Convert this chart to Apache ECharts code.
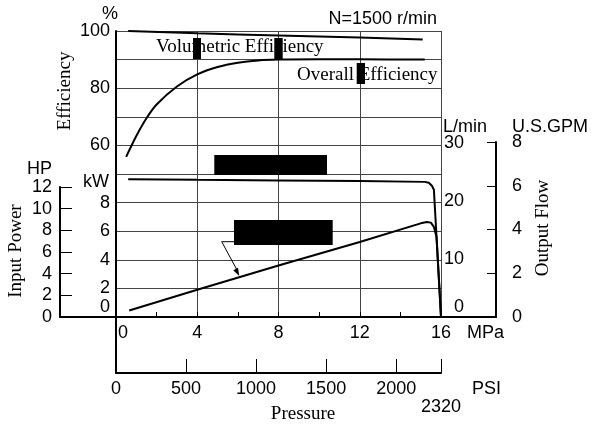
<!DOCTYPE html>
<html>
<head>
<meta charset="utf-8">
<script src="https://cdn.jsdelivr.net/npm/echarts@6/dist/echarts.min.js"></script>
<style>html,body{margin:0;padding:0;background:#fff}#c{width:592px;height:427px}</style>
</head>
<body>
<div id="c"></div>
<script>
// ---- data (pressure in MPa) ----
const volP   = [0.6, 4, 8, 12, 15.1];
const volEff = [100, 99.2, 98.4, 97.7, 97.0];

const ovP   = [0.5, 1, 1.5, 2, 3, 4, 5, 6, 7, 8, 10, 12, 15.2];
const ovEff = [56, 63.3, 69.5, 74.3, 80.6, 84.8, 87.4, 88.9, 89.7, 90.0, 90.1, 90.1, 90.0];

const flowP = [0.6, 4, 8, 12, 15.2, 15.4, 15.55, 15.65, 16];
const flowQ = [23.7, 23.6, 23.5, 23.4, 23.25, 23.1, 22.6, 21.9, 0];   // L/min

const powP  = [0.65, 4, 8, 12, 15.0, 15.3, 15.5, 15.65, 15.78, 16];
const powKW = [0.45, 1.9, 3.6, 5.25, 6.55, 6.65, 6.6, 6.3, 5.6, 0];   // kW

const mpaTicks = [0, 4, 8, 12, 16];
const psiTicks = [0, 500, 1000, 1500, 2000, 2320];
const effLabels = [60, 80, 100];
const kwLabels = [0, 2, 4, 6, 8];
const lminLabels = [0, 10, 20, 30];
const hpTicks = [0, 2, 4, 6, 8, 10, 12];
const gpmTicks = [0, 2, 4, 6, 8];

const zip = (a, b) => a.map((v, i) => [v, b[i]]);

const SANS = '"Liberation Sans", Arial, Helvetica, sans-serif';
const SERIF = '"Liberation Serif", "Times New Roman", serif';
const FS = 18;
const SFS = 19;
const BLACK = '#000';
const GRID = '#444';

const chart = echarts.init(document.getElementById('c'), null, {renderer: 'canvas'});

function txt(text, x, y, opt) {
  opt = opt || {};
  return {
    type: 'text', x: x, y: y, rotation: opt.rot || 0, z: 100,
    style: {
      text: text, fill: BLACK,
      font: (opt.size || FS) + 'px ' + (opt.serif ? SERIF : SANS),
      align: opt.align || 'left', verticalAlign: 'middle'
    }
  };
}
function box(x, y, w, h) {
  return {type: 'rect', z: 100, shape: {x: x, y: y, width: w, height: h}, style: {fill: BLACK}};
}

const option = {
  animation: false,
  backgroundColor: '#fff',
  grid: [
    {left: 116, top: 31, width: 325, height: 286},
    {left: 60, top: 187, width: 56, height: 130},
    {left: 441, top: 142, width: 55, height: 175},
    {left: 116, top: 317, width: 325, height: 56}
  ],
  xAxis: [
    {
      gridIndex: 0, type: 'value', min: mpaTicks[0], max: mpaTicks[mpaTicks.length - 1], interval: 4,
      axisLine: {show: true, onZero: false, lineStyle: {color: BLACK, width: 2}},
      axisTick: {show: true, inside: true, length: 5, lineStyle: {color: BLACK}},
      minorTick: {show: true, splitNumber: 2, length: 5, lineStyle: {color: BLACK, width: 1}},
      axisLabel: {
        margin: 7, fontSize: FS, fontFamily: SANS, color: BLACK,
        formatter: v => v === 0 ? '{z|0}' : String(v),
        rich: {z: {fontSize: FS, fontFamily: SANS, color: BLACK, padding: [0, 0, 0, 14]}}
      },
      splitLine: {show: true, lineStyle: {color: GRID, width: 1}}
    },
    {gridIndex: 1, type: 'value', min: 0, max: 1, axisLine: {show: true, onZero: false, lineStyle: {color: BLACK, width: 2}},
      axisTick: {show: false}, axisLabel: {show: false}, splitLine: {show: false}},
    {gridIndex: 2, type: 'value', min: 0, max: 1, axisLine: {show: true, onZero: false, lineStyle: {color: BLACK, width: 2}},
      axisTick: {show: false}, axisLabel: {show: false}, splitLine: {show: false}},
    {
      gridIndex: 3, type: 'value', min: psiTicks[0], max: psiTicks[psiTicks.length - 1], interval: 500,
      axisLine: {show: true, onZero: false, lineStyle: {color: BLACK, width: 2}},
      axisTick: {show: true, inside: true, length: 14, lineStyle: {color: BLACK, width: 1}, customValues: psiTicks},
      axisLabel: {
        margin: 7, fontSize: FS, fontFamily: SANS, color: BLACK, customValues: psiTicks,
        showMaxLabel: true, showMinLabel: true,
        formatter: v => v === 2320 ? '{d|2320}' : String(v),
        rich: {d: {fontSize: FS, fontFamily: SANS, color: BLACK, padding: [18, 0, 0, 0]}}
      },
      splitLine: {show: false}
    }
  ],
  yAxis: [
    {
      gridIndex: 0, type: 'value', position: 'left', min: 0, max: 100, interval: 10,
      axisLine: {show: true, onZero: false, lineStyle: {color: BLACK, width: 2}},
      axisTick: {show: false},
      axisLabel: {margin: 6, fontSize: FS, fontFamily: SANS, color: BLACK,
        formatter: v => effLabels.indexOf(v) >= 0 ? String(v) : ''},
      splitLine: {show: true, lineStyle: {color: GRID, width: 1}}
    },
    {
      gridIndex: 0, type: 'value', position: 'left', min: 0, max: 20, interval: 2,
      axisLine: {show: false}, axisTick: {show: false}, splitLine: {show: false},
      axisLabel: {margin: 6, fontSize: FS, fontFamily: SANS, color: BLACK,
        formatter: v => kwLabels.indexOf(v) < 0 ? '' : (v === 0 ? '{z|0}' : String(v)),
        rich: {z: {fontSize: FS, fontFamily: SANS, color: BLACK, padding: [0, 0, 20, 0]}}}
    },
    {
      gridIndex: 0, type: 'value', position: 'right', min: 0, max: 49.21, interval: 10,
      axisLine: {show: false}, axisTick: {show: false}, splitLine: {show: false},
      axisLabel: {margin: 23, align: 'right', fontSize: FS, fontFamily: SANS, color: BLACK,
        formatter: v => lminLabels.indexOf(v) < 0 ? '' : (v === 0 ? '{z|0}' : String(v)),
        rich: {z: {fontSize: FS, fontFamily: SANS, color: BLACK, padding: [0, 0, 20, 0]}}}
    },
    {
      gridIndex: 1, type: 'value', position: 'left', min: hpTicks[0], max: hpTicks[hpTicks.length - 1], interval: 2,
      axisLine: {show: true, onZero: false, lineStyle: {color: BLACK, width: 2}},
      axisTick: {show: true, inside: true, length: 12, lineStyle: {color: BLACK, width: 1}},
      axisLabel: {margin: 8, fontSize: FS, fontFamily: SANS, color: BLACK},
      splitLine: {show: false}
    },
    {
      gridIndex: 2, type: 'value', position: 'right', min: gpmTicks[0], max: gpmTicks[gpmTicks.length - 1], interval: 2,
      axisLine: {show: true, onZero: false, lineStyle: {color: BLACK, width: 2}},
      axisTick: {show: true, inside: true, length: 9, lineStyle: {color: BLACK, width: 1}},
      axisLabel: {margin: 16, fontSize: FS, fontFamily: SANS, color: BLACK},
      splitLine: {show: false}
    },
    {
      gridIndex: 3, type: 'value', position: 'left', min: 0, max: 1,
      axisLine: {show: true, onZero: false, lineStyle: {color: BLACK, width: 2}},
      axisTick: {show: false}, axisLabel: {show: false}, splitLine: {show: false}
    }
  ],
  series: [
    {type: 'line', name: 'Volumetric Efficiency', xAxisIndex: 0, yAxisIndex: 0, data: zip(volP, volEff),
      showSymbol: false, smooth: true, lineStyle: {color: BLACK, width: 2}, z: 5},
    {type: 'line', name: 'Overall Efficiency', xAxisIndex: 0, yAxisIndex: 0, data: zip(ovP, ovEff),
      showSymbol: false, smooth: 0.3, lineStyle: {color: BLACK, width: 2}, z: 5},
    {type: 'line', name: 'Output Flow', xAxisIndex: 0, yAxisIndex: 2, data: zip(flowP, flowQ),
      showSymbol: false, smooth: false, lineStyle: {color: BLACK, width: 2}, z: 5},
    {type: 'line', name: 'Input Power', xAxisIndex: 0, yAxisIndex: 1, data: zip(powP, powKW),
      showSymbol: false, smooth: false, lineStyle: {color: BLACK, width: 2}, z: 5}
  ],
  graphic: [
    txt('%', 102, 14),
    txt('N=1500 r/min', 437, 19, {align: 'right'}),
    txt('Efficiency', 65, 91, {serif: true, size: SFS, rot: Math.PI / 2, align: 'center'}),
    txt('HP', 52, 169, {align: 'right'}),
    txt('kW', 109, 182, {align: 'right'}),
    txt('Input Power', 16, 251, {serif: true, size: SFS, rot: Math.PI / 2, align: 'center'}),
    txt('L/min', 443, 127),
    txt('U.S.GPM', 512, 127),
    txt('Output Flow', 543, 228, {serif: true, size: SFS, rot: Math.PI / 2, align: 'center'}),
    txt('MPa', 467, 333),
    txt('PSI', 472, 389),
    txt('Pressure', 303, 414, {serif: true, size: SFS, align: 'center'}),
    txt('Volumetric Efficiency', 156, 47, {serif: true, size: SFS}),
    txt('Overall Efficiency', 297, 75, {serif: true, size: SFS}),
    box(193, 38, 8, 21),
    box(274.3, 38, 8.4, 21),
    box(356.7, 63, 8.3, 21),
    box(214.3, 155, 112.7, 20),
    box(234, 220, 98.7, 25),
    {type: 'polyline', z: 100, shape: {points: [[234, 241.7], [221.7, 241.7], [237, 270]]},
      style: {stroke: BLACK, lineWidth: 1, fill: null}},
    {type: 'polygon', z: 100, shape: {points: [[233.2, 270.3], [238.0, 267.8], [239.3, 276]]},
      style: {fill: BLACK}}
  ]
};
chart.setOption(option);
</script>
</body>
</html>
